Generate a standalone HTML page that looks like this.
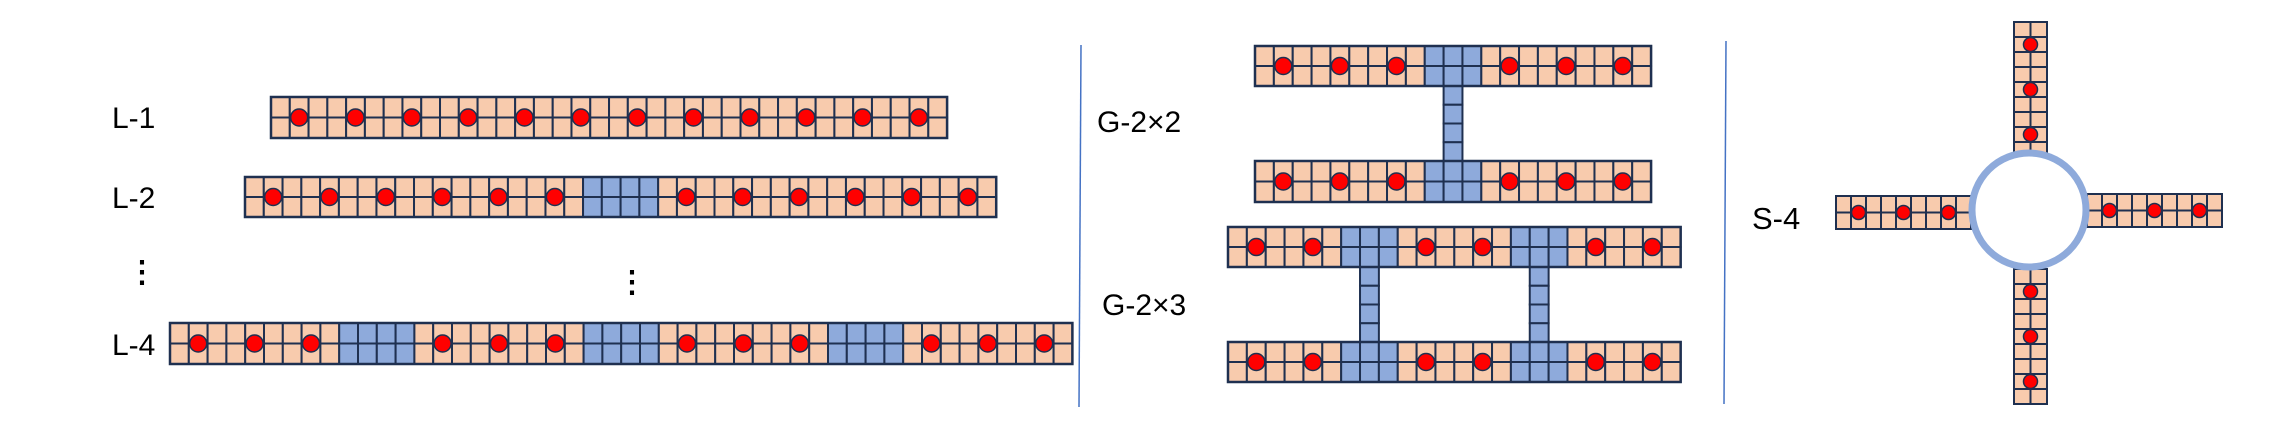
<!DOCTYPE html>
<html><head><meta charset="utf-8"><style>
html,body{margin:0;padding:0;background:#fff;}
svg{display:block;}
text{font-family:"Liberation Sans",sans-serif;fill:#000;}
</style></head><body>
<svg id="fig" width="2289" height="435" viewBox="0 0 2289 435" xmlns="http://www.w3.org/2000/svg">
<line x1="1081" y1="45" x2="1079" y2="407" stroke="#4472c4" stroke-width="1.5"/>
<line x1="1726" y1="41" x2="1724" y2="404" stroke="#4472c4" stroke-width="1.5"/>
<text x="112" y="128" font-size="30">L-1</text>
<text x="112" y="208" font-size="30">L-2</text>
<text x="112" y="355" font-size="30">L-4</text>
<text x="127" y="282" font-size="30" font-weight="bold">⋮</text>
<text x="617" y="292" font-size="30" font-weight="bold">⋮</text>
<text x="1097" y="132" font-size="30">G-2×2</text>
<text x="1102" y="315" font-size="30">G-2×3</text>
<text x="1752" y="229" font-size="31">S-4</text>
<g id="marks"></g>
</svg>
<script>
// Layout data: strips (cols, rows, blue columns, dot columns)
const stripNames = ["l1","l2","l4","g22-top","g22-bottom","g23-top","g23-bottom"];
const stripCols = [36,40,48,21,21,24,24];
const stripBlue = [[],[18,19,20,21],[9,10,11,12,22,23,24,25,35,36,37,38],[9,10,11],[9,10,11],[6,7,8,15,16,17],[6,7,8,15,16,17]];
const stripDots = [[1,4,7,10,13,16,19,22,25,28,31,34],[1,4,7,10,13,16,23,26,29,32,35,38],[1,4,7,14,17,20,27,30,33,40,43,46],[1,4,7,13,16,19],[1,4,7,13,16,19],[1,4,10,13,19,22],[1,4,10,13,19,22]];
const stripX = [271,245,170,1255,1255,1228,1228];
const stripY = [97,177,323,46,161,227,342];
const stripCW = [18.78,18.78,18.8,18.86,18.86,18.86,18.86];
const stripCH = [20.5,20,20.5,20,20.5,20,20];
const connCol = [[3,10],[5,7],[5,16]]; // [stripIndex, column]
const connCells = [4,4,4];
const armNames = ["top","bottom","left","right"];
const armVertical = [true,true,false,false];
const armX = [2014,2014,1836,2087];
const armY = [22,269,196,194];
const armLen = [9,9,9,9];
const armDots = [[1,4,7],[1,4,7],[1,4,7],[1,4,7]];

const NS="http://www.w3.org/2000/svg";
const g=document.getElementById('marks');
const PEACH="#f8cbad",BLUE="#8eaadb",LINE="#1f3050";
function mk(tag,attrs){const e=document.createElementNS(NS,tag);for(const k in attrs)e.setAttribute(k,attrs[k]);g.appendChild(e);return e;}
function cell(x,y,w,h,fill,name){
  const r=mk('rect',{x:x,y:y,width:w,height:h,fill:fill,stroke:LINE,'stroke-width':2});
  
  
}
function dot(cx,cy,r,name){
  const c=mk('circle',{cx:cx,cy:cy,r:r,fill:'#ff0000',stroke:LINE,'stroke-width':1.5});
  
  
}
connCol.forEach((cc,k)=>{
  const i=cc[0],col=cc[1];
  const x=stripX[i]+col*stripCW[i];
  const y0=stripY[i]+2*stripCH[i];
  const y1=stripY[i+1];
  const h=(y1-y0)/connCells[k];
  for(let r=0;r<connCells[k];r++) cell(x,y0+r*h,stripCW[i],h,BLUE,'connector-cell');
});
stripNames.forEach((nm,i)=>{
  for(let c=0;c<stripCols[i];c++){
    const fill=stripBlue[i].includes(c)?BLUE:PEACH;
    for(let r=0;r<2;r++) cell(stripX[i]+c*stripCW[i],stripY[i]+r*stripCH[i],stripCW[i],stripCH[i],fill,nm+'-cell');
  }
  const o=mk('rect',{x:stripX[i],y:stripY[i],width:stripCols[i]*stripCW[i],height:2*stripCH[i],fill:'none',stroke:LINE,'stroke-width':2.5});
  
  
  stripDots[i].forEach(c=>dot(stripX[i]+(c+0.5)*stripCW[i],stripY[i]+stripCH[i],8.5,nm+'-qubit'));
});
armNames.forEach((nm,i)=>{
  if(armVertical[i]){
    const cw=16.5,ch=15;
    for(let r=0;r<armLen[i];r++)for(let c=0;c<2;c++) cell(armX[i]+c*cw,armY[i]+r*ch,cw,ch,PEACH,'arm-'+nm+'-cell');
    armDots[i].forEach(r=>dot(armX[i]+cw,armY[i]+(r+0.5)*ch,7,'arm-'+nm+'-qubit'));
  } else {
    const cw=15,ch=16.5;
    for(let c=0;c<armLen[i];c++)for(let r=0;r<2;r++) cell(armX[i]+c*cw,armY[i]+r*ch,cw,ch,PEACH,'arm-'+nm+'-cell');
    armDots[i].forEach(c=>dot(armX[i]+(c+0.5)*cw,armY[i]+ch,7,'arm-'+nm+'-qubit'));
  }
});
const ring=mk('circle',{cx:2029,cy:210,r:57,fill:'#fff',stroke:BLUE,'stroke-width':7});


</script>
</body></html>
